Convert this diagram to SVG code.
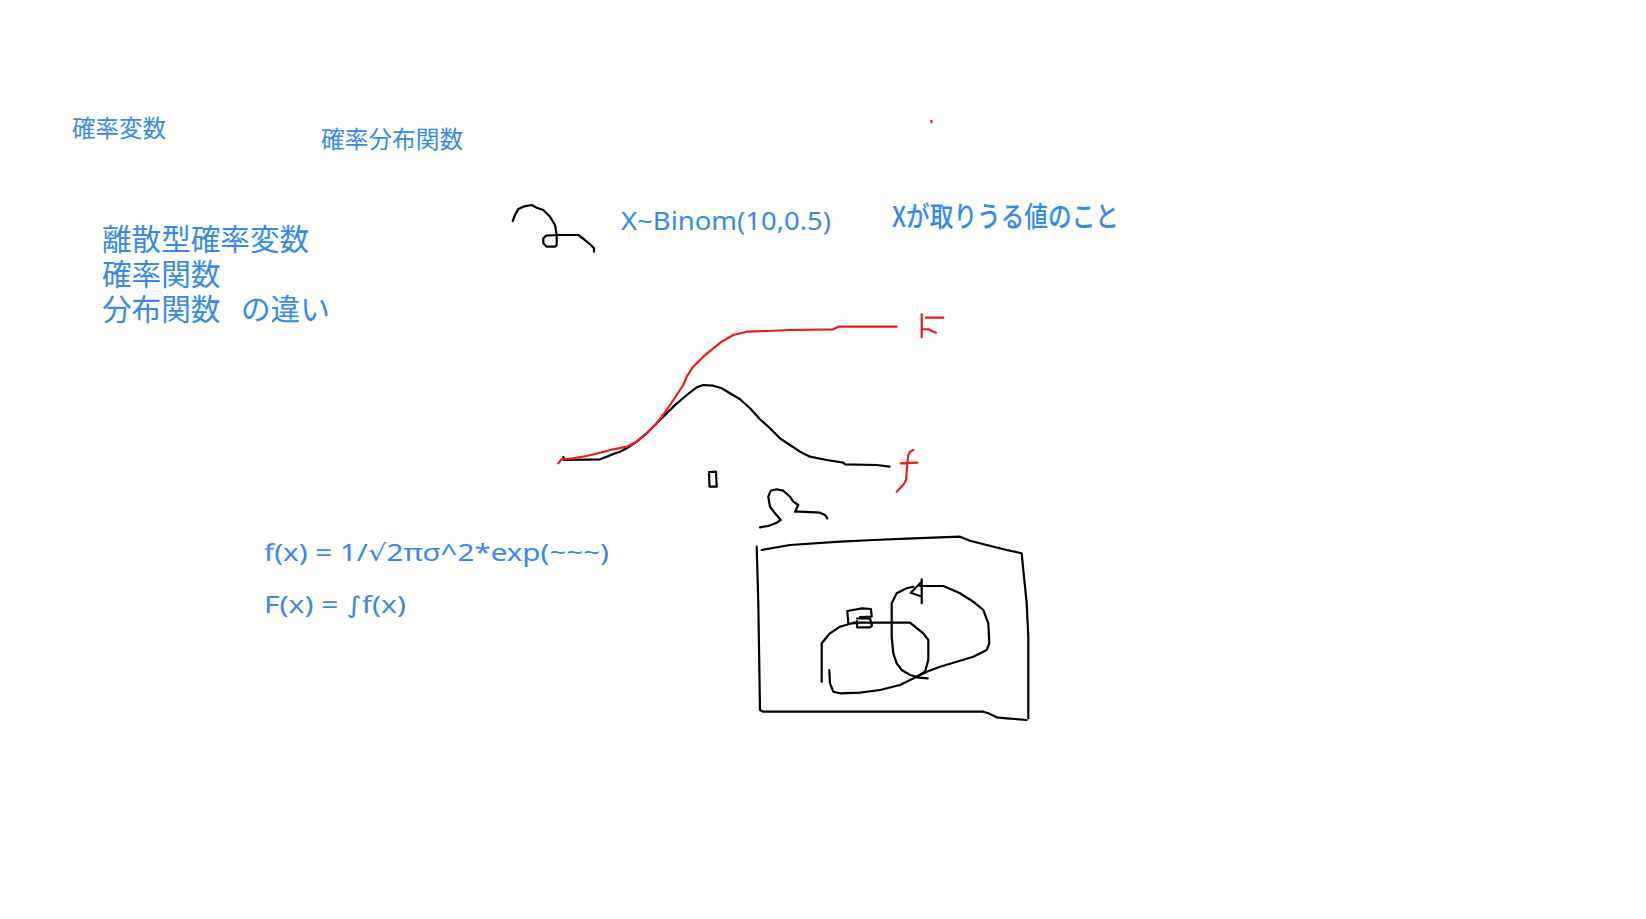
<svg xmlns="http://www.w3.org/2000/svg" width="1646" height="919" viewBox="0 0 1646 919">
<style>
.jp{font-family:"Noto Sans CJK JP","Noto Sans",sans-serif;fill:#338af0}
.lt{font-family:"Noto Sans","Noto Sans CJK JP",sans-serif;fill:#338af0}
.sym{font-family:"DejaVu Sans",sans-serif}
.ink{fill:none;stroke:#000;stroke-width:2.2;stroke-linejoin:round;stroke-linecap:round}
.red{fill:none;stroke:#f01818;stroke-width:2.2;stroke-linejoin:round;stroke-linecap:round}
</style>
<rect width="1646" height="919" fill="#fff"/>
<g id="texts">
<text id="t1" class="jp" x="72" y="137" font-size="23.5">確率変数</text>
<text id="t2" class="jp" x="321" y="148" font-size="23.7">確率分布関数</text>
<text id="t3" class="jp" font-size="29.6"><tspan x="102" y="250">離散型確率変数</tspan><tspan x="102" y="285">確率関数</tspan><tspan x="102" y="320">分布関数</tspan><tspan x="241" y="320">の違い</tspan></text>
<text id="t6" class="lt" x="621" y="230" font-size="25" textLength="210" lengthAdjust="spacingAndGlyphs">X~Binom(10,0.5)</text>
<text id="t7" class="jp" x="892" y="227" font-size="28.5" font-weight="500" textLength="227" lengthAdjust="spacingAndGlyphs">Xが取りうる値のこと</text>
<text id="t8" class="lt" x="264" y="561" font-size="23" textLength="345" lengthAdjust="spacingAndGlyphs">f(x) = 1/<tspan class="sym">√</tspan>2πσ^2*exp(~~~)</text>
<text id="t9" class="lt" x="264" y="613" font-size="23" textLength="142" lengthAdjust="spacingAndGlyphs">F(x) = <tspan class="sym">∫</tspan>f(x)</text>
</g>
<g id="sketch-top">
<path class="ink" d="M512.7,221 L515,215 L518.3,209 L523.3,206.7 L531.7,205 L536.7,207.7 L543.3,210 L550,216.7 L555,225 L556.7,235 L556.7,245 L555,246.7 L546.7,246.7 L543.3,243.3 L543.3,238.3 L546,235.7 L556.7,235 L578.3,235 L585,240 L590,244.3 L594,248.3 L594,251.7"/>
<rect x="930.5" y="120" width="2" height="3.3" fill="#f01818"/>
</g>
<g id="curves">
<path class="ink" d="M563.3,457 L564,460 L600,459.3 L606.7,456.7 L613.3,454 L620,451.7 L626.7,448.3 L636.7,441.7 L646.7,433.3 L660,420 L673.3,406.7 L686.7,395 L696.7,387.3 L703.3,385 L713.3,385.7 L721.7,388.3 L730,393.3 L740,399.3 L750,408.3 L760,419.3 L770,428.3 L780,438.3 L790,445 L800,451.7 L810,456.7 L826.7,460 L843.3,462.7 L845,464.3 L876.7,465 L889.5,466.7"/>
<path class="red" d="M558.3,463.3 L561.7,459.3 L573.3,458.3 L586.7,456 L600,452.7 L613.3,449.3 L626.7,446.7 L636.7,441.7 L646.7,433.3 L656.7,423.3 L666.7,410 L676.7,395 L683.3,385 L686.7,376.7 L693.3,366.7 L703.3,356.7 L713.3,348.3 L721.7,341.7 L733.3,335 L746.7,331.7 L766.7,331 L790,330 L833.3,329.3 L838.3,326.7 L896.7,326.7"/>
<path class="red" d="M921.7,314.3 L921.7,337.3 M926,317.7 L943.3,317.7 M921.7,329 L929.3,329.3 L931.7,331 L936,332.7"/>
<path class="red" d="M913.3,450 L910,451.7 L908.3,455 L907.7,460 L906,480 L903.3,485 L900,488.3 L896.7,491.7 M900.7,463.3 L917.3,462.7"/>
<path class="ink" d="M709,472 L716,471.7 L716.7,486.7 L709.5,486.7 Z"/>
<path class="ink" d="M760,527.3 L768.3,526 L776.7,522.7 L780.7,520 L775,513.3 L770,506.7 L768.3,496.7 L770.7,490.7 L776.7,489.3 L783.3,490.7 L790,496.7 L793.3,501.7 L798.3,505 L795,511.7 L800,511.7 L820,512.7 L825,515 L827.3,518.3"/>
</g>
<g id="venn">
<path class="ink" d="M761.7,550 L790,545 L840,541.7 L873.3,540 L913.3,538.3 L960,536.7 L970,540.7 L986.7,545 L1006.7,550 L1021.7,553.3 L1023.3,570 L1026.7,603.3 L1028.3,636.7 L1028.3,670 L1028.3,718.3"/>
<path class="ink" d="M756.7,546.7 L758.3,603.3 L760,710 L763.3,711.7 L983.3,711.7 L988.3,713.3 L996.7,717.3 L1006.7,718.3 L1026.7,720"/>
<path class="ink" d="M920,586 L943.3,586 L960,593.3 L973.3,601.7 L983.3,610 L988.3,623.3 L989.3,643.3 L986.7,650 L973.3,656.7 L956.7,661.7 L940,666.7 L926.7,671.7 L916.7,676.7 L910,675 L901.7,670 L896.7,663.3 L893.3,653.3 L891.7,636.7 L891.7,603.3 L896.7,593.3 L906.7,588.3 L913.3,586.7"/>
<path class="ink" d="M921.7,579.3 L921.7,603.3 M921.7,581.7 L910.7,592.7 L920,596"/>
<path class="ink" d="M821.7,681.7 L821.7,643.3 L830,633.3 L840,626.7 L851.7,623.3 L860,622.7 M853.3,622.7 L910,622.7 L923.3,633.3 L928.3,640 L928.3,660 L925,671.7 L916.7,676.7 L900,685 L880,690 L860,692.7 L840,693.3 L833.3,691.7 L830,683.3 L829.3,670 M916.7,677.3 L927.7,678.3"/>
<path class="ink" d="M847.3,611 L848.3,623 M847.3,611 L862,608.3 L871,609 L871.7,616.7 L860,617 M857,618.5 L870,618.5 L872,625.7 L870,627.3 L857,627.3 L857,621"/>
</g>
</svg>
